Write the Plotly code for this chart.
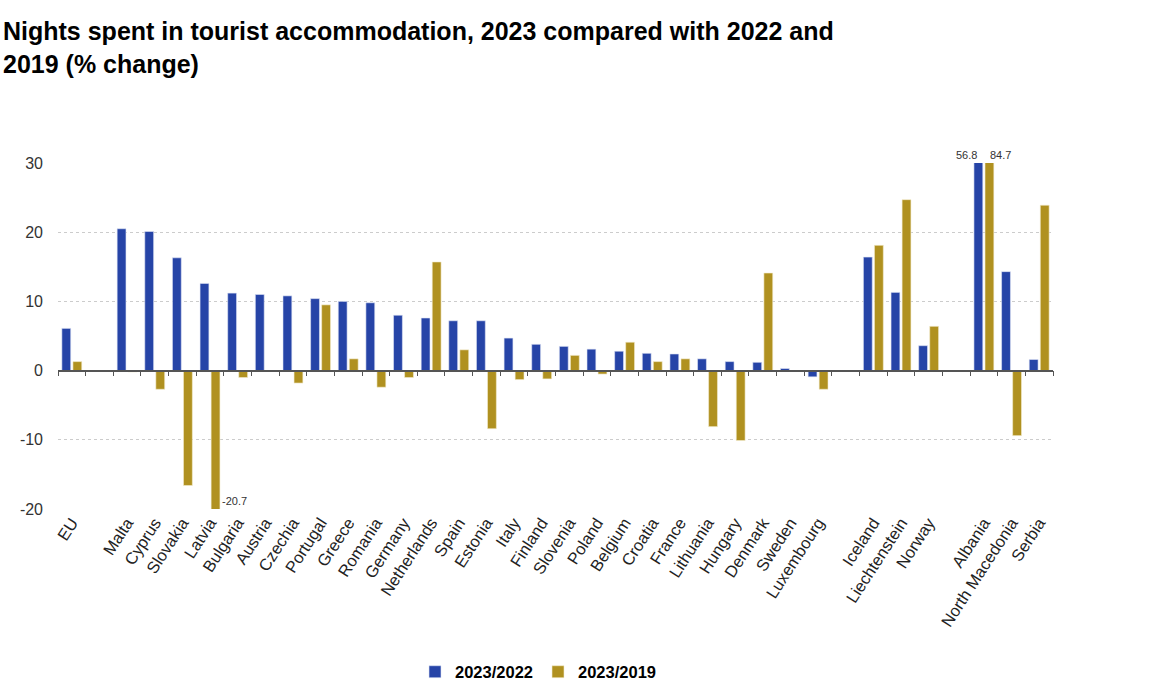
import plotly.graph_objects as go

categories = ["EU", " ", "Malta", "Cyprus", "Slovakia", "Latvia", "Bulgaria", "Austria", "Czechia",
              "Portugal", "Greece", "Romania", "Germany", "Netherlands", "Spain", "Estonia", "Italy",
              "Finland", "Slovenia", "Poland", "Belgium", "Croatia", "France", "Lithuania", "Hungary",
              "Denmark", "Sweden", "Luxembourg", "  ", "Iceland", "Liechtenstein", "Norway", "   ",
              "Albania", "North Macedonia", "Serbia"]

change_2022 = [6.1, None, 20.5, 20.1, 16.3, 12.6, 11.2, 11.0, 10.8,
               10.4, 10.0, 9.8, 8.0, 7.6, 7.2, 7.2, 4.7,
               3.8, 3.5, 3.1, 2.8, 2.5, 2.4, 1.7, 1.3,
               1.2, 0.3, -0.9, None, 16.4, 11.3, 3.6, None,
               56.8, 14.3, 1.6]

change_2019 = [1.3, None, -0.2, -2.7, -16.6, -20.7, -1.0, 0.0, -1.8,
               9.5, 1.7, -2.4, -1.0, 15.7, 3.0, -8.4, -1.3,
               -1.2, 2.2, -0.5, 4.1, 1.3, 1.7, -8.1, -10.1,
               14.1, 0.0, -2.7, None, 18.1, 24.7, 6.4, None,
               84.7, -9.4, 23.9]

series_names = ["2023/2022", "2023/2019"]
y_range = [-20, 30]
y_ticks = [-20, -10, 0, 10, 20, 30]
y_tick_labels = [str(v) for v in y_ticks]

BLUE = "#2644A7"
GOLD = "#B09120"
FONT = "Liberation Sans, Arial, sans-serif"

fig = go.Figure()
fig.add_trace(go.Bar(x=categories, y=change_2022, name=series_names[0],
                     marker=dict(color=BLUE, line=dict(color="#dfe4f5", width=0.6))))
fig.add_trace(go.Bar(x=categories, y=change_2019, name=series_names[1],
                     marker=dict(color=GOLD, line=dict(color="#f3ecd0", width=0.6))))
# invisible helper trace carrying the zero-line axis with boundary ticks
fig.add_trace(go.Bar(x=categories, y=change_2022, xaxis="x2", yaxis="y", opacity=0,
                     showlegend=False, hoverinfo="skip"))

zero_pos = (0 - y_range[0]) / (y_range[1] - y_range[0])

fig.update_layout(
    width=1155, height=690,
    paper_bgcolor="white", plot_bgcolor="white",
    font=dict(family=FONT, color="#333333"),
    margin=dict(l=58, r=102, t=163, b=181, autoexpand=False),
    barmode="group", bargap=0.2, bargroupgap=0.2,
    title=dict(text="Nights spent in tourist accommodation, 2023 compared with 2022 and<br>2019 (% change)",
               x=3 / 1155, xref="container", xanchor="left",
               y=1 - 40 / 690, yref="container", yanchor="top",
               pad=dict(l=0, r=0, t=0, b=0),
               font=dict(family=FONT, size=25, color="#000000", weight="bold")),
    xaxis=dict(type="category", categoryorder="array", categoryarray=categories,
               tickangle=-57, tickfont=dict(size=16.5, color="#222222"),
               showgrid=False, showline=False, ticks="", zeroline=False, automargin=False,
               range=[-0.5, len(categories) - 0.5]),
    xaxis2=dict(type="category", categoryorder="array", categoryarray=categories,
                overlaying="x", anchor="free", position=zero_pos, side="bottom",
                showticklabels=False, tickson="boundaries", ticks="outside",
                ticklen=5, tickcolor="#555555", tickwidth=1.2, automargin=False,
                showline=True, linecolor="#555555", linewidth=1.5,
                showgrid=False, zeroline=False,
                range=[-0.5, len(categories) - 0.5]),
    yaxis=dict(range=y_range, tickvals=y_ticks, ticktext=y_tick_labels,
               tickfont=dict(size=16, color="#333333"),
               showgrid=True, gridcolor="#cccccc", griddash="dot", gridwidth=1,
               zeroline=False, ticks="", ticklabelstandoff=14, automargin=False),
    legend=dict(orientation="h", x=(538 - 58) / 995, xanchor="center",
                y=-(672 - 509) / 346, yanchor="middle",
                font=dict(size=16.5, color="#000000", weight="bold"),
                itemwidth=30, traceorder="normal"),
    showlegend=True,
)

# value labels for bars that run off the axis range
albania_idx = categories.index("Albania")
latvia_idx = categories.index("Latvia")
fig.add_annotation(x="Albania", y=y_range[1], text=f"{change_2022[albania_idx]}",
                   showarrow=False, yanchor="bottom", xanchor="right", xshift=-5, yshift=0,
                   font=dict(size=11, color="#333333"))
fig.add_annotation(x="Albania", y=y_range[1], text=f"{change_2019[albania_idx]}",
                   showarrow=False, yanchor="bottom", xanchor="left", xshift=4, yshift=0,
                   font=dict(size=11, color="#333333"))
fig.add_annotation(x="Latvia", y=y_range[0], text=f"{change_2019[latvia_idx]}",
                   showarrow=False, yanchor="bottom", xanchor="left", xshift=10, yshift=0,
                   font=dict(size=11, color="#333333"))

fig.write_html("out.html", config={"displayModeBar": False},
               post_script="document.body.style.margin='0px';")
